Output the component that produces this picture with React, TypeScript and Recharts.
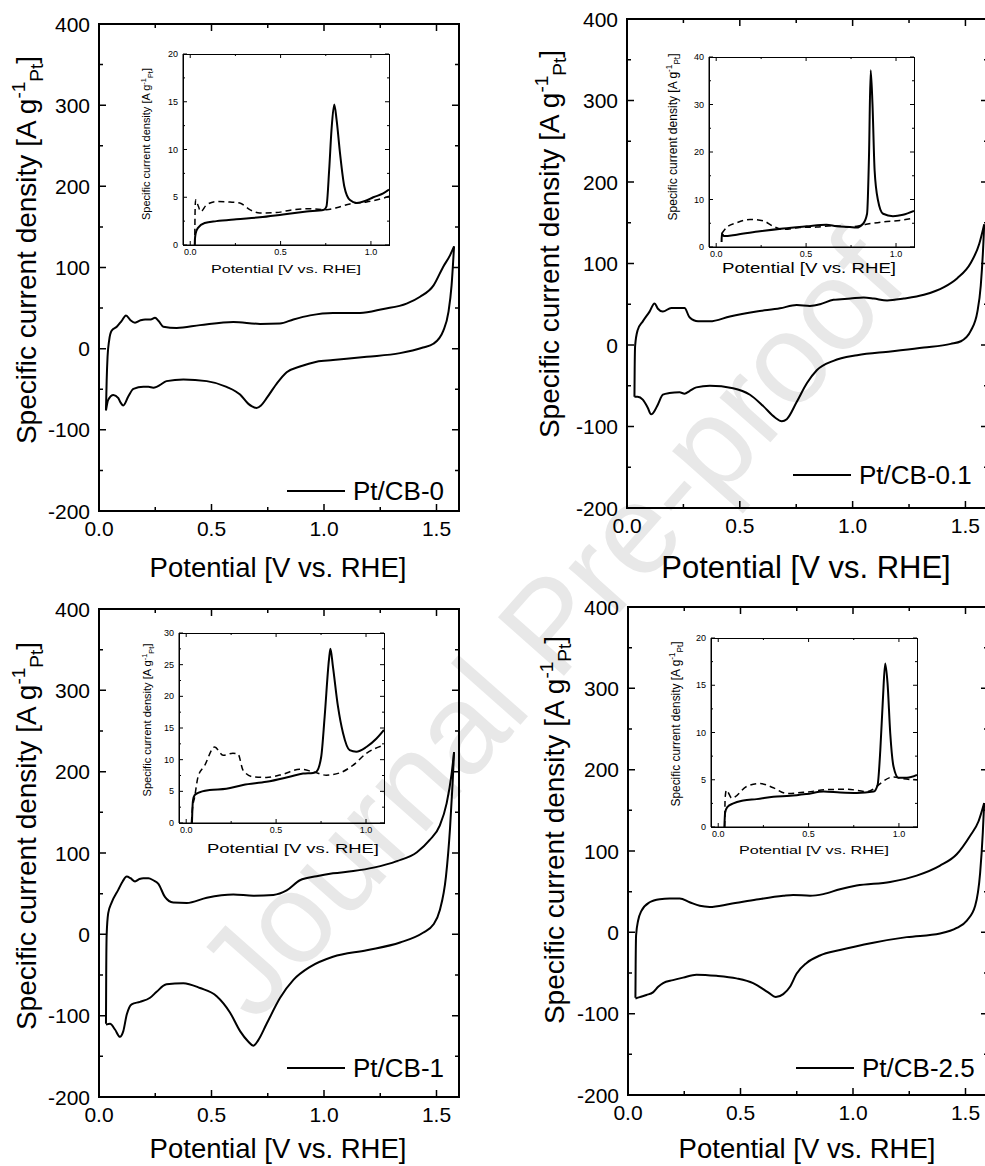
import React from "react";
import { LineChart, Line, XAxis, YAxis, Legend } from "recharts";

const FONT = "'Liberation Sans', Arial, Helvetica, sans-serif";
const NARROW = "'Liberation Sans Narrow', 'Arial Narrow', 'Liberation Sans', sans-serif";

// tick positions
const mainXTicks = [0, 0.25, 0.5, 0.75, 1, 1.25, 1.5];
const mainYTicks = [-200, -150, -100, -50, 0, 50, 100, 150, 200, 250, 300, 350, 400];
const insetXTicks = [0, 0.25, 0.5, 0.75, 1];
const insetYTicks20 = [0, 2.5, 5, 7.5, 10, 12.5, 15, 17.5, 20];
const insetYTicks30 = [0, 2.5, 5, 7.5, 10, 12.5, 15, 17.5, 20, 22.5, 25, 27.5, 30];
const insetYTicks40 = [0, 5, 10, 15, 20, 25, 30, 35, 40];

// Pt/CB-0 : full CV loop (anodic then cathodic)
const cb0Potential = [0.031, 0.034, 0.038, 0.045, 0.056, 0.079, 0.1, 0.12, 0.14, 0.16, 0.185, 0.205, 0.23, 0.249, 0.265, 0.286, 0.345, 0.449, 0.597, 0.716, 0.804, 0.864, 0.938, 1.04, 1.16, 1.264, 1.367, 1.427, 1.487, 1.53, 1.56, 1.578,
  1.567, 1.553, 1.53, 1.486, 1.44, 1.338, 1.19, 1.04, 0.967, 0.893, 0.834, 0.79, 0.745, 0.72, 0.7, 0.68, 0.664, 0.627, 0.567, 0.479, 0.375, 0.3, 0.27, 0.256, 0.241, 0.22, 0.197, 0.153, 0.13, 0.108, 0.095, 0.086, 0.064, 0.041, 0.031];
const cb0Current = [-76, -40, -10, 10, 22, 27, 34, 41, 35, 32, 35, 36, 36, 38, 34, 27, 25.5, 29, 33, 30.5, 31, 36, 41, 44, 44, 49, 55.5, 64, 78, 101, 115, 126,
  78, 45, 22, 6, 1.4, -5.5, -10, -14, -16, -22, -29, -43, -61, -70, -73, -71, -68, -56.5, -47, -40, -38, -40, -45, -47, -48, -47, -47, -49.5, -59, -70, -66, -61, -57, -63, -76];
const cb0InsetSolidV = [0.025, 0.026, 0.03, 0.043, 0.08, 0.145, 0.255, 0.385, 0.514, 0.644, 0.74, 0.754, 0.769, 0.782, 0.797, 0.81, 0.829, 0.853, 0.884, 0.921, 0.967, 1.013, 1.068, 1.1];
const cb0InsetSolidI = [0, 0.6, 1.2, 1.8, 2.3, 2.5, 2.7, 2.9, 3.2, 3.5, 3.7, 4.05, 7.9, 12.1, 14.7, 13.1, 9.6, 6.1, 4.7, 4.4, 4.6, 5.0, 5.4, 5.8];
const cb0InsetDashV = [0.025, 0.027, 0.03, 0.045, 0.058, 0.09, 0.145, 0.22, 0.274, 0.33, 0.385, 0.477, 0.57, 0.662, 0.754, 0.81, 0.884, 0.976, 1.068, 1.1];
const cb0InsetDashI = [0, 3.7, 4.75, 4.05, 3.5, 4.2, 4.55, 4.5, 4.4, 3.7, 3.35, 3.4, 3.7, 3.8, 3.7, 3.9, 4.3, 4.5, 4.9, 5.1];

// Pt/CB-0.1
const cb01Potential = [0.033, 0.034, 0.036, 0.047, 0.07, 0.1, 0.122, 0.137, 0.159, 0.196, 0.233, 0.255, 0.277, 0.315, 0.367, 0.456, 0.574, 0.678, 0.752, 0.811, 0.856, 0.915, 0.99, 1.049, 1.094, 1.153, 1.227, 1.316, 1.405, 1.464, 1.524, 1.561, 1.583,
  1.58, 1.568, 1.553, 1.524, 1.48, 1.435, 1.316, 1.168, 1.02, 0.915, 0.841, 0.797, 0.752, 0.708, 0.686, 0.656, 0.604, 0.545, 0.47, 0.367, 0.307, 0.277, 0.255, 0.233, 0.188, 0.159, 0.137, 0.114, 0.107, 0.092, 0.07, 0.047, 0.033];
const cb01Current = [-63.5, -30, -1, 18, 29, 41, 51, 44.5, 41, 45.5, 45.5, 45.5, 34, 29, 29, 35, 41, 45, 49, 48, 50, 55.5, 57, 58.3, 57, 54.6, 57, 61.6, 71, 82, 101, 124, 148,
  128, 73, 41, 17.6, 4.6, 1.4, -3.2, -7.9, -12.5, -19.4, -31, -47, -70, -91, -93.5, -89, -75, -61, -53, -50, -52, -56.5, -59.7, -58, -59, -61, -73, -84, -85, -77, -67, -63.5, -63.5];
const cb01InsetSolidV = [0.03, 0.031, 0.043, 0.114, 0.243, 0.373, 0.502, 0.613, 0.669, 0.743, 0.78, 0.817, 0.839, 0.85, 0.859, 0.869, 0.881, 0.9, 0.928, 0.983, 1.039, 1.1];
const cb01InsetSolidI = [1.05, 2.8, 2.3, 2.6, 3.3, 3.9, 4.35, 4.7, 4.35, 4.2, 4.1, 4.9, 7, 19.6, 37.2, 30.2, 16.1, 9.8, 7, 6.5, 6.8, 7.6];
const cb01InsetDashV = [0.03, 0.058, 0.114, 0.188, 0.262, 0.317, 0.373, 0.465, 0.558, 0.65, 0.743, 0.835, 0.928, 1.02, 1.1];
const cb01InsetDashI = [2.8, 4.1, 5.1, 5.8, 5.5, 4.35, 3.7, 4.1, 4.2, 4.5, 4.2, 4.8, 5.3, 5.6, 6.1];

// Pt/CB-1
const cb1Potential = [0.031, 0.032, 0.034, 0.041, 0.056, 0.086, 0.105, 0.123, 0.14, 0.16, 0.18, 0.197, 0.22, 0.241, 0.264, 0.293, 0.33, 0.39, 0.479, 0.597, 0.686, 0.775, 0.834, 0.893, 0.967, 1.04, 1.13, 1.22, 1.324, 1.413, 1.47, 1.515, 1.545, 1.567, 1.578,
  1.572, 1.56, 1.542, 1.515, 1.486, 1.44, 1.338, 1.19, 1.04, 0.938, 0.864, 0.805, 0.745, 0.708, 0.686, 0.664, 0.627, 0.582, 0.523, 0.449, 0.375, 0.3, 0.256, 0.227, 0.182, 0.145, 0.123, 0.108, 0.093, 0.071, 0.049, 0.031];
const cb1Current = [-110, -50, -1, 26, 39, 55, 65, 71, 69, 65, 68, 69, 69, 66.5, 62, 46, 39, 38.5, 45, 49, 47.5, 48.5, 54, 66.5, 71.5, 75, 77.8, 82, 90, 101, 116, 134, 161, 197, 224,
  188, 130, 71, 30, 12, 2, -10, -19.5, -27.6, -40, -56, -78, -110, -130, -137, -132, -119, -96, -76, -66, -60, -61.5, -70.6, -78, -83, -86, -99, -119, -126, -117, -110, -111];
const cb1InsetSolidV = [0.032, 0.034, 0.038, 0.047, 0.066, 0.13, 0.223, 0.316, 0.446, 0.575, 0.65, 0.705, 0.724, 0.751, 0.77, 0.794, 0.802, 0.816, 0.844, 0.872, 0.909, 0.946, 1.002, 1.057, 1.1];
const cb1InsetSolidI = [0, 1.8, 3.6, 4.4, 4.75, 5.2, 5.4, 6, 6.5, 7.3, 7.8, 7.9, 8.1, 10.5, 16.8, 25.8, 27.5, 24.7, 18.4, 14.2, 11.5, 11.25, 12, 13.3, 14.7];
const cb1InsetDashV = [0.029, 0.034, 0.047, 0.066, 0.103, 0.158, 0.205, 0.26, 0.288, 0.316, 0.371, 0.446, 0.538, 0.631, 0.705, 0.779, 0.853, 0.927, 1.002, 1.1];
const cb1InsetDashI = [0, 2, 4.1, 7.3, 9.1, 12, 10.7, 11, 10.9, 8.35, 7.3, 7.2, 7.7, 8.5, 8.1, 7.55, 7.9, 9.1, 11, 12.3];

// Pt/CB-2.5
const cb25Potential = [0.033, 0.034, 0.036, 0.045, 0.059, 0.096, 0.141, 0.185, 0.23, 0.274, 0.319, 0.363, 0.452, 0.571, 0.69, 0.734, 0.809, 0.868, 0.942, 1.016, 1.165, 1.283, 1.387, 1.461, 1.52, 1.558, 1.583,
  1.577, 1.565, 1.543, 1.506, 1.461, 1.387, 1.239, 1.09, 0.942, 0.853, 0.794, 0.749, 0.72, 0.69, 0.657, 0.623, 0.556, 0.482, 0.393, 0.304, 0.245, 0.2, 0.156, 0.134, 0.111, 0.082, 0.052, 0.033];
const cb25Current = [-80.5, -40, -3.6, 14.5, 26, 37, 40.7, 41.6, 41.6, 37, 32.6, 31.2, 34.8, 40.3, 45, 46, 45, 47, 53, 57.5, 62, 69.7, 82, 96, 118.5, 136.6, 159,
  123, 73, 32.6, 14.5, 5.4, -1.4, -5.9, -12.7, -21.7, -28.5, -37.6, -51, -67, -76, -79.6, -73.8, -62.4, -56.6, -53.4, -52, -55.7, -58.8, -62.4, -67, -73.8, -77, -79.6, -81.4];
const cb25InsetSolidV = [0.034, 0.038, 0.05, 0.084, 0.139, 0.213, 0.305, 0.398, 0.49, 0.583, 0.675, 0.767, 0.86, 0.882, 0.897, 0.911, 0.924, 0.937, 0.952, 0.97, 0.998, 1.044, 1.1];
const cb25InsetSolidI = [0, 1.5, 2.1, 2.5, 2.8, 2.95, 3.2, 3.3, 3.5, 3.75, 3.65, 3.6, 3.75, 4.45, 8.15, 13.4, 17.3, 15.2, 9.9, 6.4, 5.2, 5.2, 5.5];
const cb25InsetDashV = [0.036, 0.038, 0.045, 0.075, 0.158, 0.232, 0.305, 0.379, 0.49, 0.601, 0.712, 0.823, 0.878, 0.897, 0.97, 1.025, 1.1];
const cb25InsetDashI = [0, 3.0, 3.9, 3.05, 4.3, 4.6, 4.15, 3.55, 3.7, 3.95, 4.0, 3.75, 4.3, 4.6, 5.3, 5.1, 5.0];

type Pt = { v: number; i: number };
const toPts = (v: number[], i: number[]): Pt[] => v.map((x, k) => ({ v: x, i: i[k] }));

// split a CV loop at its vertex potential into the anodic and cathodic sweeps
const splitLoop = (pts: Pt[]): Pt[][] => {
  let k = 0;
  pts.forEach((p, j) => {
    if (p.v > pts[k].v) k = j;
  });
  return [pts.slice(0, k + 1), pts.slice(k)];
};

type Box = { left: number; top: number; width: number; height: number };
type Rect = { x0: number; x1: number; y0: number; y1: number };
type Look = { frame: number; tickW: number; major: number; minor: number; font: number; xGap: number; yGap: number };
type Series = { pts: Pt[]; dashed?: boolean; width: number };

const mainLook: Look = { frame: 2, tickW: 1.5, major: 7, minor: 4, font: 21, xGap: 25, yGap: 9 };
const insetLook: Look = { frame: 1, tickW: 1, major: 4, minor: 2, font: 9, xGap: 10, yGap: 5 };

const fmt1 = (v: number) => v.toFixed(1);
const fmt0 = (v: number) => String(v);
const isMajor = (v: number, step: number) => Math.abs(v / step - Math.round(v / step)) < 1e-6;

// tick renderer: inward tick on this side, mirrored tick on the opposite side, label on majors
function makeTick(side: "left" | "bottom", step: number, look: Look, span: number, fmt: (v: number) => string) {
  return (p: any) => {
    const v = Number(p.payload.value);
    const major = isMajor(v, step);
    const len = major ? look.major : look.minor;
    const x = Number(p.x);
    const y = Number(p.y);
    if (side === "left") {
      return (
        <g>
          <path d={`M${x},${y}h${len}M${x + span},${y}h${-len}`} stroke="black" strokeWidth={look.tickW} fill="none" />
          {major && (
            <text x={x - look.yGap} y={y} textAnchor="end" dominantBaseline="central" fontSize={look.font} fontFamily={FONT} fill="#000">
              {fmt(v)}
            </text>
          )}
        </g>
      );
    }
    return (
      <g>
        <path d={`M${x},${y}v${-len}M${x},${y - span}v${len}`} stroke="black" strokeWidth={look.tickW} fill="none" />
        {major && (
          <text x={x} y={y + look.xGap} textAnchor="middle" fontSize={look.font} fontFamily={FONT} fill="#000">
            {fmt(v)}
          </text>
        )}
      </g>
    );
  };
}

function CVPlot(props: {
  box: Box;
  plot: Rect;
  xDomain: [number, number];
  xTicks: number[];
  xStep: number;
  yDomain: [number, number];
  yTicks: number[];
  yStep: number;
  look: Look;
  series: Series[];
  legend?: { x: number; y: number; label: string };
}) {
  const { box, plot, look } = props;
  // bottom x axis is 1px tall
  const margin = {
    top: plot.y0 - box.top,
    bottom: box.top + box.height - plot.y1 - 1,
    left: 0,
    right: box.left + box.width - plot.x1,
  };
  const axisLine = { stroke: "#000", strokeWidth: look.frame };
  const common = { tickSize: 0, tickMargin: 0, tickLine: false, interval: 0 as const, allowDataOverflow: true, axisLine };
  const w = look.frame;
  return (
    <div style={{ position: "absolute", left: box.left, top: box.top, width: box.width, height: box.height }}>
      {/* frame box */}
      <div
        style={{
          position: "absolute", left: plot.x0 - box.left - w / 2, top: plot.y0 - box.top - w / 2,
          width: plot.x1 - plot.x0 - w, height: plot.y1 - plot.y0 - w, border: `${w}px solid #000`, boxSizing: "content-box",
        }}
      />
      <div style={{ position: "absolute", left: 0, top: 0 }}>
        <LineChart width={box.width} height={box.height} margin={margin}>
          <XAxis xAxisId="b" type="number" dataKey="v" domain={props.xDomain} ticks={props.xTicks} height={1} {...common}
            tick={makeTick("bottom", props.xStep, look, plot.y1 - plot.y0, fmt1)} />
          <YAxis yAxisId="l" type="number" domain={props.yDomain} ticks={props.yTicks} width={plot.x0 - box.left} {...common}
            tick={makeTick("left", props.yStep, look, plot.x1 - plot.x0, fmt0)} />
          {props.series.map((s, k) => (
            <Line key={k} xAxisId="b" yAxisId="l" data={s.pts} dataKey="i" type="monotone" stroke="#000"
              strokeWidth={s.width} strokeDasharray={s.dashed ? "6 4" : undefined} dot={false} activeDot={false}
              isAnimationActive={false} />
          ))}
          {props.legend && (
            <Legend layout="vertical" align="center" verticalAlign="middle"
              wrapperStyle={{ left: props.legend.x - box.left, top: props.legend.y - box.top - 15, width: "auto", height: "auto", margin: 0, padding: 0 }}
              content={() => (
                <div style={{ display: "flex", alignItems: "center", fontFamily: FONT, fontSize: 26, lineHeight: "30px", whiteSpace: "nowrap", color: "#000" }}>
                  <span style={{ display: "inline-block", width: 58, height: 2, background: "#000", marginRight: 8 }} />
                  {props.legend!.label}
                </div>
              )} />
          )}
        </LineChart>
      </div>
    </div>
  );
}

function YTitle(p: { x: number; y: number; size: number; len?: number; family: string }) {
  const s = p.size * 0.68;
  return (
    <text transform={`translate(${p.x},${p.y}) rotate(-90)`} textAnchor="middle" fontSize={p.size} fontFamily={p.family} fill="#000"
      textLength={p.len} lengthAdjust={p.len ? "spacingAndGlyphs" : undefined}>
      Specific current density [A g
      <tspan dy={-p.size * 0.38} fontSize={s}>-1</tspan>
      <tspan dy={p.size * 0.62} fontSize={s}>Pt</tspan>
      <tspan dy={-p.size * 0.24}>]</tspan>
    </text>
  );
}

function XTitle(p: { x: number; y: number; size: number; len?: number }) {
  return (
    <text x={p.x} y={p.y} textAnchor="middle" fontSize={p.size} fontFamily={FONT} fill="#000"
      textLength={p.len} lengthAdjust={p.len ? "spacingAndGlyphs" : undefined}>
      Potential [V vs. RHE]
    </text>
  );
}

const panels = [
  {
    label: "Pt/CB-0",
    main: toPts(cb0Potential, cb0Current),
    solid: toPts(cb0InsetSolidV, cb0InsetSolidI),
    dash: toPts(cb0InsetDashV, cb0InsetDashI),
    box: { left: 0, top: 0, width: 490, height: 590 },
    plot: { x0: 99, x1: 459, y0: 24, y1: 511 },
    legend: { x: 287, y: 491 },
    ibox: { left: 120, top: 40, width: 290, height: 250 },
    iplot: { x0: 183, x1: 389, y0: 54, y1: 245 },
    iy: [0, 20] as [number, number], iyTicks: insetYTicks20, iyStep: 5,
  },
  {
    label: "Pt/CB-0.1",
    main: toPts(cb01Potential, cb01Current),
    solid: toPts(cb01InsetSolidV, cb01InsetSolidI),
    dash: toPts(cb01InsetDashV, cb01InsetDashI),
    box: { left: 490, top: 0, width: 510, height: 590 },
    plot: { x0: 627, x1: 988, y0: 19, y1: 508 },
    legend: { x: 793, y: 475 },
    ibox: { left: 640, top: 40, width: 300, height: 250 },
    iplot: { x0: 709, x1: 914, y0: 57, y1: 247 },
    iy: [0, 40] as [number, number], iyTicks: insetYTicks40, iyStep: 10,
  },
  {
    label: "Pt/CB-1",
    main: toPts(cb1Potential, cb1Current),
    solid: toPts(cb1InsetSolidV, cb1InsetSolidI),
    dash: toPts(cb1InsetDashV, cb1InsetDashI),
    box: { left: 0, top: 590, width: 490, height: 576 },
    plot: { x0: 99, x1: 459, y0: 609, y1: 1097 },
    legend: { x: 287, y: 1068 },
    ibox: { left: 120, top: 620, width: 290, height: 250 },
    iplot: { x0: 179, x1: 384, y0: 633, y1: 823 },
    iy: [0, 30] as [number, number], iyTicks: insetYTicks30, iyStep: 5,
  },
  {
    label: "Pt/CB-2.5",
    main: toPts(cb25Potential, cb25Current),
    solid: toPts(cb25InsetSolidV, cb25InsetSolidI),
    dash: toPts(cb25InsetDashV, cb25InsetDashI),
    box: { left: 490, top: 590, width: 510, height: 576 },
    plot: { x0: 628, x1: 988, y0: 607, y1: 1095 },
    legend: { x: 796, y: 1068 },
    ibox: { left: 640, top: 620, width: 300, height: 250 },
    iplot: { x0: 711, x1: 917, y0: 638, y1: 827 },
    iy: [0, 20] as [number, number], iyTicks: insetYTicks20, iyStep: 5,
  },
];

const insetX: [number, number] = [-0.04, 1.1];
const mainXDom: [number, number] = [0, 1.6];
const mainYDom: [number, number] = [-200, 400];

export default function App() {
  return (
    <div style={{ position: "absolute", left: 0, top: 0, width: 985, height: 1166, overflow: "hidden", background: "#fff" }}>
      <div
        style={{
          position: "absolute", left: 550, top: 625, transform: "translate(-50%, -50%) rotate(-48.5deg)",
          fontFamily: FONT, fontSize: 128, lineHeight: 1, color: "#e8e8e8", whiteSpace: "nowrap",
        }}
      >
        Journal Pre-proof
      </div>
      {panels.map((p) => {
        const [anodic, cathodic] = splitLoop(p.main);
        return (
          <React.Fragment key={p.label}>
            <CVPlot box={p.box} plot={p.plot} xDomain={mainXDom} xTicks={mainXTicks} xStep={0.5}
              yDomain={mainYDom} yTicks={mainYTicks} yStep={100} look={mainLook}
              series={[{ pts: anodic, width: 2 }, { pts: cathodic, width: 2 }]}
              legend={{ x: p.legend.x, y: p.legend.y, label: p.label }} />
            <CVPlot box={p.ibox} plot={p.iplot} xDomain={insetX} xTicks={insetXTicks} xStep={0.5}
              yDomain={p.iy} yTicks={p.iyTicks} yStep={p.iyStep} look={insetLook}
              series={[{ pts: p.solid, width: 2 }, { pts: p.dash, width: 1.5, dashed: true }]} />
          </React.Fragment>
        );
      })}
      <svg width={985} height={1166} style={{ position: "absolute", left: 0, top: 0, pointerEvents: "none" }}>
        <YTitle x={36} y={250} size={28} family={FONT} />
        <YTitle x={559} y={244} size={28} family={FONT} />
        <YTitle x={36} y={836} size={28} family={FONT} />
        <YTitle x={564} y={830} size={28} family={FONT} />
        <XTitle x={278} y={577} size={27.5} />
        <XTitle x={806} y={578} size={31} />
        <XTitle x={278} y={1158} size={27.5} />
        <XTitle x={807} y={1158} size={27.5} />
        <YTitle x={150} y={144} size={11} len={152} family={NARROW} />
        <YTitle x={677} y={137} size={12} len={167} family={NARROW} />
        <YTitle x={151} y={720} size={11} len={153} family={NARROW} />
        <YTitle x={680} y={724} size={12} len={165} family={NARROW} />
        <XTitle x={286} y={273} size={11} len={150} />
        <XTitle x={809} y={273} size={14} len={174} />
        <XTitle x={293} y={853} size={13} len={172} />
        <XTitle x={814} y={854} size={11} len={150} />
      </svg>
    </div>
  );
}
